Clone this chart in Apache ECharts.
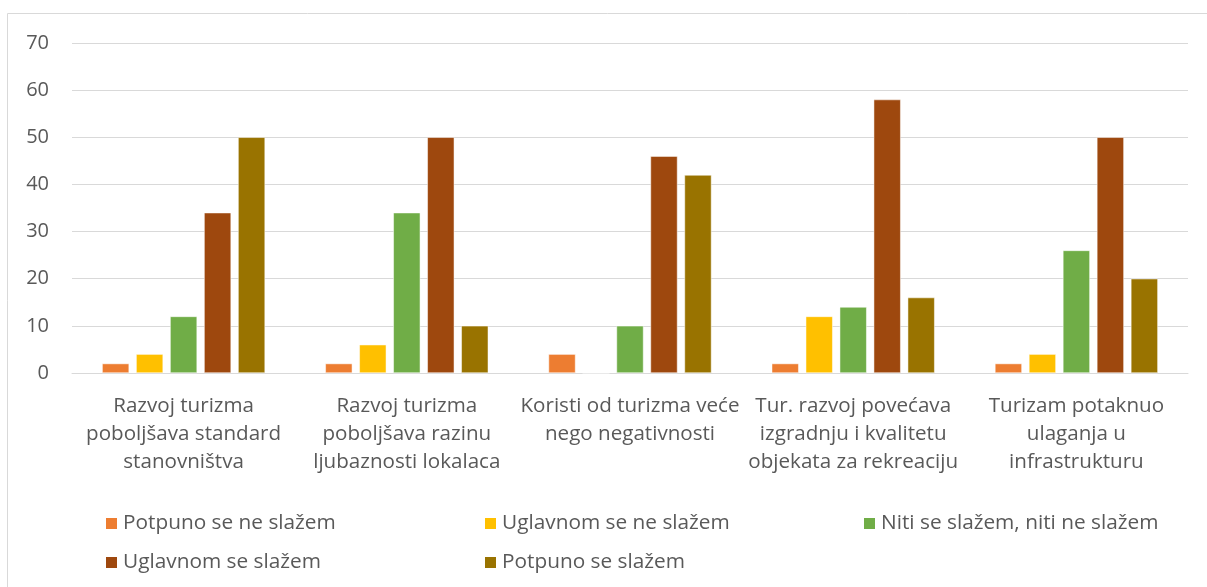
<!DOCTYPE html>
<html>
<head>
<meta charset="utf-8">
<script src="https://cdn.jsdelivr.net/npm/echarts@6/dist/echarts.min.js"></script>
<style>html,body{margin:0;padding:0;background:#fff}#c{width:1207px;height:587px}</style>
</head>
<body>
<div id="c"></div>
<script>
const categories = [
  "Razvoj turizma\npoboljšava standard\nstanovništva",
  "Razvoj turizma\npoboljšava razinu\nljubaznosti lokalaca",
  "Koristi od turizma veće\nnego negativnosti",
  "Tur. razvoj povećava\nizgradnju i kvalitetu\nobjekata za rekreaciju",
  "Turizam potaknuo\nulaganja u\ninfrastrukturu"
];
const seriesNames = ["Potpuno se ne slažem","Uglavnom se ne slažem","Niti se slažem, niti ne slažem","Uglavnom se slažem","Potpuno se slažem"];
const potpunoNe = [2, 2, 4, 2, 2];
const uglavnomNe = [4, 6, 0, 12, 4];
const niti = [12, 34, 10, 14, 26];
const uglavnomDa = [34, 50, 46, 58, 50];
const potpunoDa = [50, 10, 42, 16, 20];
const colors = ["#ED7D31","#FFC000","#70AD47","#9E480E","#997300"];
const values = [potpunoNe, uglavnomNe, niti, uglavnomDa, potpunoDa];

const font = "'Open Sans', sans-serif";
const legendPos = [[104,513],[483,513],[862,513],[104,552],[483,552]];
const chart = echarts.init(document.getElementById('c'));
chart.setOption({
  animation: false,
  color: colors,
  graphic: [{type:'rect', shape:{x:7.5,y:13.5,width:1300,height:600}, style:{fill:'none', stroke:'#d9d9d9', lineWidth:1}, z:-1}],
  grid: {left:72, right:19, top:43, bottom:214},
  legend: seriesNames.map((n,i)=>({
    data:[n], left:legendPos[i][0], top:legendPos[i][1], padding:0, itemWidth:13, itemHeight:13, itemGap:6,
    icon:'rect', textStyle:{color:'#595959', fontSize:20.8, lineHeight:21, fontFamily:font}
  })),
  xAxis: {
    type:'category', data:categories,
    axisLine:{lineStyle:{color:'#d9d9d9'}}, axisTick:{show:false},
    axisLabel:{color:'#595959', fontSize:20.6, fontFamily:font, lineHeight:28, margin:19, interval:0}
  },
  yAxis: {
    type:'value', min:0, max:70, interval:10,
    splitLine:{lineStyle:{color:'#d9d9d9'}},
    axisLabel:{color:'#595959', fontSize:20, fontFamily:font, margin:23}
  },
  series: values.map((v,i)=>({
    name: seriesNames[i], type:'bar', data:v,
    barGap:'26%', barCategoryGap:'27%',
    itemStyle:{color:colors[i], borderColor:'#fff', borderWidth:0.5}
  }))
});
</script>
</body>
</html>
